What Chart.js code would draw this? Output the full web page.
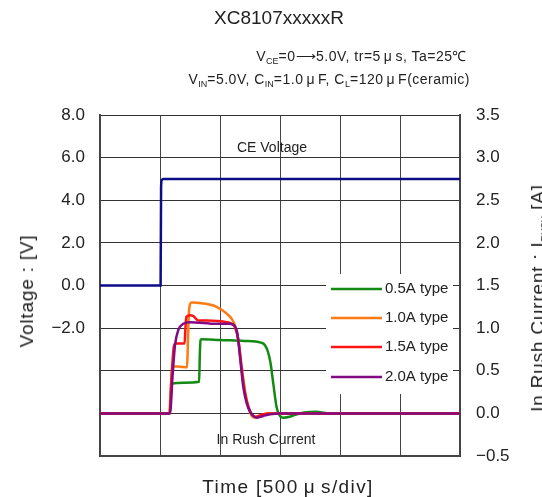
<!DOCTYPE html>
<html>
<head>
<meta charset="utf-8">
<script src="https://cdn.jsdelivr.net/npm/chart.js@4/dist/chart.umd.min.js"></script>
<style>
  body { margin: 0; background: #fff; }
  #wrap { position: relative; width: 542px; height: 497px; overflow: hidden;
          font-family: "Liberation Sans", Arial, sans-serif; color: #222; }
  canvas { position: absolute; left: 0; top: 0; }
  .t { position: absolute; white-space: nowrap; transform: translate(-50%, -50%); }
  .r { position: absolute; white-space: nowrap; transform: translateY(-50%); font-size: 14px; letter-spacing: 0.5px; }
  .rot { transform: translate(-50%, -50%) rotate(-90deg); font-size: 19px; letter-spacing: 0.8px; }
  sub { font-size: 9px; vertical-align: -3px; line-height: 0; letter-spacing: 0; }
  .mu { margin: 0 3px; }
  .xt { letter-spacing: 1.4px; }
  .xt .mu { margin: 0 5px; }
</style>
</head>
<body>
<div id="wrap">
  <canvas id="myChart" width="542" height="497"></canvas>
  <div class="t" style="left:279px; top:18px; font-size:19px;">XC8107xxxxxR</div>
  <div class="r" style="right:75px; top:55px;">V<sub>CE</sub>=0⟶5.0V, tr=5<span class="mu">μ</span>s, Ta=25℃</div>
  <div class="r" style="right:72px; top:79px;">V<sub>IN</sub>=5.0V, C<sub>IN</sub>=1.0<span class="mu">μ</span>F, C<sub>L</sub>=120<span class="mu">μ</span>F(ceramic)</div>
  <div class="t rot" style="left:27px; top:291px;">Voltage : [V]</div>
  <div class="t rot" style="left:538px; top:298px;">In Rush Current : I<sub>RUSH</sub> [A]</div>
  <div class="t xt" style="left:288px; top:487px; font-size:19px;">Time [500<span class="mu">μ</span>s/div]</div>
  <div class="t" style="left:272px; top:147px; font-size:14px;">CE Voltage</div>
  <div class="t" style="left:266px; top:439px; font-size:14px;">In Rush Current</div>
</div>
<script>
// time in microseconds, 500us per division
const ceTime = [0, 505, 509, 515, 525, 3000];
const ceVolt = [0, 0, 4.6, 4.95, 5.0, 5.0];

const type05Time = [0, 583, 592, 602, 700, 826, 832, 838, 850, 1000, 1200, 1340, 1375, 1400, 1420, 1445, 1472, 1500, 1530, 1580, 1640, 1700, 1800, 1900, 3000];
const type05Curr = [0, 0, 0.22, 0.35, 0.36, 0.37, 0.7, 0.86, 0.87, 0.86, 0.85, 0.83, 0.8, 0.72, 0.6, 0.34, 0.07, -0.03, -0.05, -0.04, -0.01, 0.01, 0.02, 0.0, 0];

const type10Time = [0, 578, 590, 606, 650, 725, 730, 738, 748, 764, 860, 972, 1056, 1097, 1125, 1153, 1181, 1208, 1236, 1264, 1292, 1333, 1389, 3000];
const type10Curr = [0, 0, 0.3, 0.55, 0.55, 0.54, 0.7, 1.1, 1.27, 1.30, 1.29, 1.25, 1.17, 1.11, 1.03, 0.86, 0.55, 0.27, 0.08, -0.03, -0.05, -0.04, 0.0, 0];

const type15Time = [0, 580, 595, 615, 630, 705, 712, 720, 750, 778, 819, 889, 972, 1056, 1097, 1125, 1153, 1181, 1208, 1250, 1292, 1361, 1417, 3000];
const type15Curr = [0, 0, 0.4, 0.78, 0.82, 0.82, 1.0, 1.13, 1.15, 1.14, 1.09, 1.09, 1.085, 1.07, 1.05, 1.01, 0.86, 0.51, 0.24, 0.03, -0.04, -0.01, 0, 0];

const type20Time = [0, 583, 606, 625, 653, 694, 750, 972, 1083, 1125, 1144, 1167, 1194, 1222, 1250, 1278, 1306, 1361, 1417, 1500, 3000];
const type20Curr = [0, 0, 0.47, 0.80, 0.98, 1.05, 1.07, 1.05, 1.05, 1.02, 0.94, 0.66, 0.31, 0.12, 0.02, -0.03, -0.05, -0.03, -0.01, 0, 0];

const seriesLabels = ['0.5A type', '1.0A type', '1.5A type', '2.0A type'];
const seriesColors = ['#138a13', '#ff7a14', '#ff1414', '#820a82'];

const voltTicks = [8, 6, 4, 2, 0, -2];

function pts(xs, ys) {
  return xs.map((x, i) => ({x: x, y: ys[i]}));
}

function makeSet(label, xs, ys, color, order, axis) {
  return {
    label: label,
    data: pts(xs, ys),
    borderColor: color,
    backgroundColor: color,
    borderWidth: 2.5,
    pointRadius: 0,
    cubicInterpolationMode: 'monotone',
    yAxisID: axis,
    order: order
  };
}

// legend drawn inside the plot, white box over the grid
const boxLegend = {
  id: 'boxLegend',
  afterDatasetsDraw(chart) {
    const ctx = chart.ctx;
    ctx.save();
    ctx.fillStyle = '#fff';
    ctx.fillRect(326, 274, 127, 120);
    ctx.font = '15px "Liberation Sans", Arial, sans-serif';
    ctx.textBaseline = 'middle';
    ctx.fillStyle = '#222';
    const rows = [289, 318, 347, 377];
    seriesLabels.forEach((lab, i) => {
      ctx.strokeStyle = seriesColors[i];
      ctx.lineWidth = 2.5;
      ctx.beginPath();
      ctx.moveTo(331, rows[i]);
      ctx.lineTo(382, rows[i]);
      ctx.stroke();
      ctx.fillText(lab, 385, rows[i]);
    });
    ctx.restore();
  }
};

function drawChart() {
  const data = {
    datasets: [
      makeSet('CE Voltage', ceTime, ceVolt, '#0c0c86', 0, 'yV'),
      makeSet(seriesLabels[3], type20Time, type20Curr, seriesColors[3], 1, 'yI'),
      makeSet(seriesLabels[2], type15Time, type15Curr, seriesColors[2], 2, 'yI'),
      makeSet(seriesLabels[1], type10Time, type10Curr, seriesColors[1], 3, 'yI'),
      makeSet(seriesLabels[0], type05Time, type05Curr, seriesColors[0], 4, 'yI')
    ]
  };

  const tickFont = {family: '"Liberation Sans", Arial, sans-serif', size: 17};

  const config = {
    type: 'line',
    data: data,
    options: {
      responsive: false,
      animation: false,
      layout: {padding: {top: 115, left: 0, right: 0, bottom: 0}},
      plugins: {legend: {display: false}, tooltip: {enabled: false}},
      scales: {
        x: {
          type: 'linear', min: 0, max: 3000,
          ticks: {display: false, stepSize: 500},
          grid: {color: '#444', lineWidth: 1, drawTicks: false},
          border: {color: '#444', width: 2},
          afterFit: s => { s.height = 41; }
        },
        yV: {
          position: 'left', min: -8, max: 8,
          ticks: {
            stepSize: 2, padding: 15, color: '#222', font: tickFont,
            callback: v => voltTicks.includes(v) ? (v < 0 ? '\u2212' + Math.abs(v).toFixed(1) : v.toFixed(1)) : ''
          },
          grid: {color: '#333', lineWidth: 1, drawTicks: false},
          border: {color: '#444', width: 2},
          afterFit: s => { s.width = 100; }
        },
        yI: {
          position: 'right', min: -0.5, max: 3.5,
          ticks: {
            stepSize: 0.5, padding: 16, color: '#222', font: tickFont,
            callback: v => v < 0 ? '\u2212' + Math.abs(v).toFixed(1) : v.toFixed(1)
          },
          grid: {display: false, drawTicks: false},
          border: {color: '#444', width: 2},
          afterFit: s => { s.width = 82; }
        }
      }
    },
    plugins: [boxLegend]
  };

  const myChart = new Chart(document.getElementById('myChart'), config);
}

drawChart();
</script>
</body>
</html>
